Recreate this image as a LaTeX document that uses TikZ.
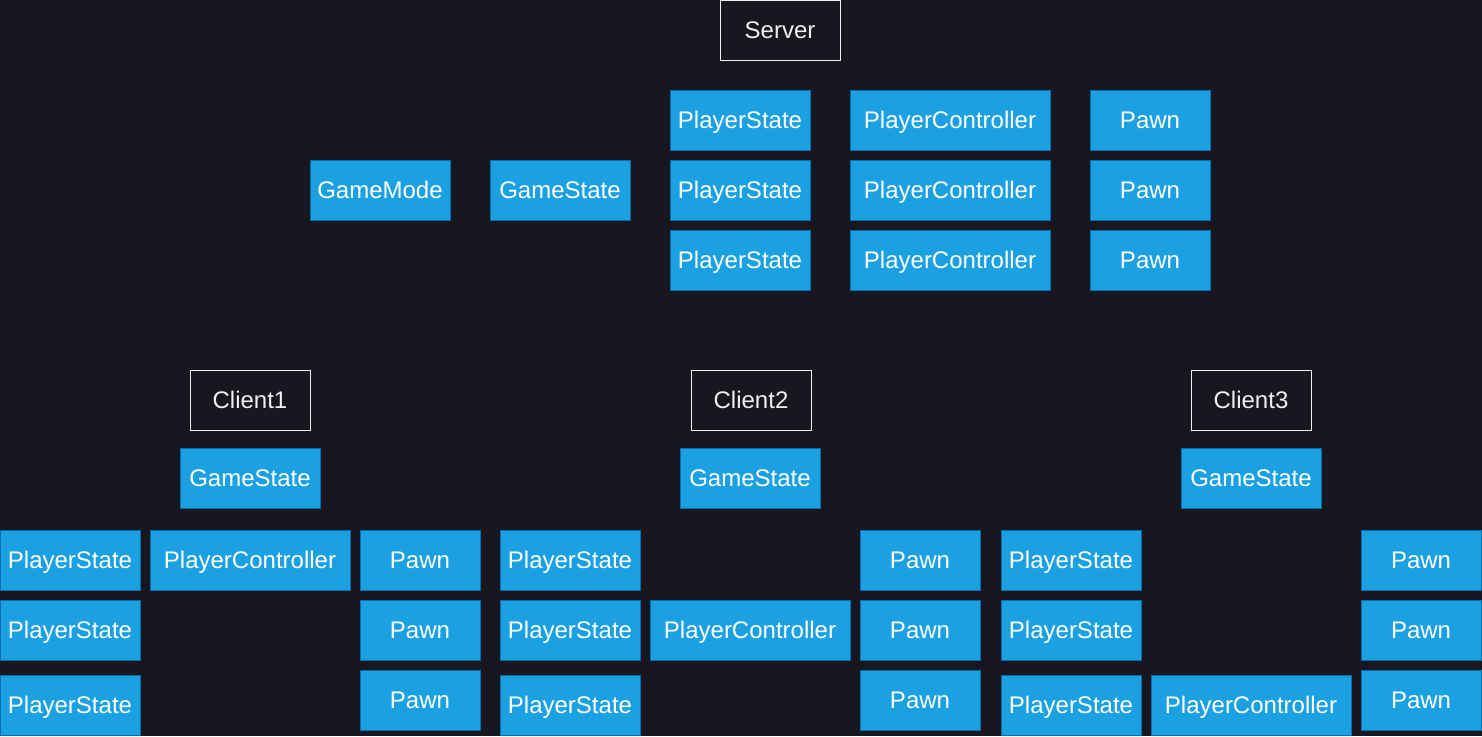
\documentclass[tikz,border=0pt]{standalone}
\usepackage{fontspec}
\setmainfont{Liberation Sans}
\usetikzlibrary{positioning}

\definecolor{bgdark}{RGB}{24,22,31}
\definecolor{boxblue}{RGB}{27,161,226}
\definecolor{boxedge}{RGB}{0,110,175}
\definecolor{hostedge}{RGB}{240,240,240}

\tikzset{
  actor/.style={rectangle, draw=boxedge, fill=boxblue, text=white, line width=1pt,
    minimum height=60pt, inner sep=0pt, outer sep=0pt, text height=17pt, text depth=0pt,
    font=\fontsize{24}{28}\selectfont},
  statebox/.style={actor, minimum width=140pt},
  ctrlbox/.style={actor, minimum width=200pt},
  pawnbox/.style={actor, minimum width=120pt},
  host/.style={rectangle, draw=hostedge, fill=bgdark, text=hostedge, line width=1pt,
    minimum width=120pt, minimum height=60pt, inner sep=0pt, outer sep=0pt,
    text height=17pt, text depth=0pt, font=\fontsize{24}{28}\selectfont}
}

\begin{document}
\begin{tikzpicture}[x=1pt,y=-1pt]
        % Background
        \fill[bgdark] (0,0) rectangle (1482,736);
        \useasboundingbox (0,0) rectangle (1482,736);

        % Server side
        \node[host] (server) at (780,30) {Server};
        \node[statebox] (gamemode) at (380,190) {GameMode};
        \node[statebox] (sgamestate) at (560,190) {GameState};
        \foreach \i/\y in {1/120,2/190,3/260} {
          \node[statebox] (sps\i) at (740,\y) {PlayerState};
          \node[ctrlbox] (spc\i) at (950,\y) {PlayerController};
          \node[pawnbox] (spawn\i) at (1150,\y) {Pawn};
        }

        % Clients
        \foreach \c/\x/\gx/\px/\pwx in {1/250/250/70/420, 2/751/750/570/920, 3/1251/1251/1071/1421} {
          \node[host] (client\c) at (\x,400) {Client\c};
          \node[statebox] (gs\c) at (\gx,478) {GameState};
          \node[statebox] (ps\c a) at (\px,560) {PlayerState};
          \node[statebox] (ps\c b) at (\px,630) {PlayerState};
          \node[statebox] (ps\c c) at (\px,705) {PlayerState};
          \node[pawnbox] (pawn\c a) at (\pwx,560) {Pawn};
          \node[pawnbox] (pawn\c b) at (\pwx,630) {Pawn};
          \node[pawnbox] (pawn\c c) at (\pwx,700) {Pawn};
        }
        % Each client owns one controller
        \node[ctrlbox] (pc1) at (250,560) {PlayerController};
        \node[ctrlbox] (pc2) at (750,630) {PlayerController};
        \node[ctrlbox] (pc3) at (1251,705) {PlayerController};

    \end{tikzpicture}
\end{document}
